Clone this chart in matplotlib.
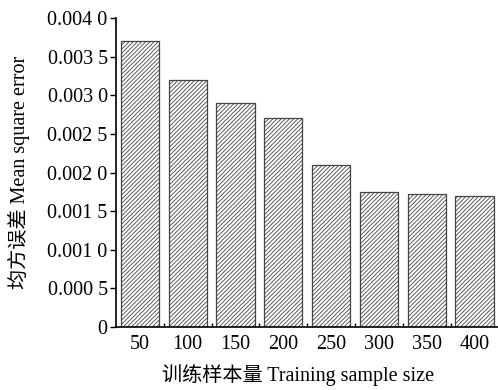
import matplotlib
matplotlib.use('Agg')
import matplotlib.pyplot as plt
from matplotlib.ticker import FixedLocator

sizes = ['50', '100', '150', '200', '250', '300', '350', '400']
mse = [0.0037, 0.0032, 0.0029, 0.0027, 0.0021, 0.001745, 0.001725, 0.00169]
yticks = [0, 0.0005, 0.001, 0.0015, 0.002, 0.0025, 0.003, 0.0035, 0.004]
ylabels = ['0', '0.000 5', '0.001 0', '0.001 5', '0.002 0', '0.002 5', '0.003 0', '0.003 5', '0.004 0']

fam = ['Liberation Serif', 'Noto Sans CJK SC']
plt.rcParams['font.family'] = fam
plt.rcParams['hatch.color'] = '#a8a8a8'
plt.rcParams['hatch.linewidth'] = 0.6

fig = plt.figure(figsize=(4.98, 3.9), dpi=100)
ax = fig.add_axes([0.233, 0.1615, 0.768, 0.7923])

x = list(range(len(sizes)))
ax.bar(x, mse, width=0.8, color='white', edgecolor='#444444', linewidth=0.9, hatch='////////')

ax.set_xlim(-0.5, 7.5)
ax.set_ylim(0, 0.004)
ax.set_xticks(x)
ax.set_xticklabels(sizes, fontsize=14.5)
ax.xaxis.set_minor_locator(FixedLocator([i + 0.5 for i in range(7)]))
ax.tick_params(axis='x', which='major', length=0, pad=6)
ax.tick_params(axis='x', which='minor', direction='in', length=3, width=1)
ax.set_yticks(yticks)
ax.set_yticklabels(ylabels, fontsize=14.5)
ax.tick_params(axis='y', direction='out', length=4, width=1, pad=2)

for s in ['top', 'right']:
    ax.spines[s].set_visible(False)
for s in ['left', 'bottom']:
    ax.spines[s].set_linewidth(1.2)

ax.set_xlabel('训练样本量 Training sample size', fontsize=14.5)
ax.xaxis.set_label_coords(0.475, -0.12)
ax.set_ylabel('均方误差 Mean square error', fontsize=14.5)
ax.yaxis.set_label_coords(-0.225, 0.5)

fig.savefig('out.png', dpi=100)
